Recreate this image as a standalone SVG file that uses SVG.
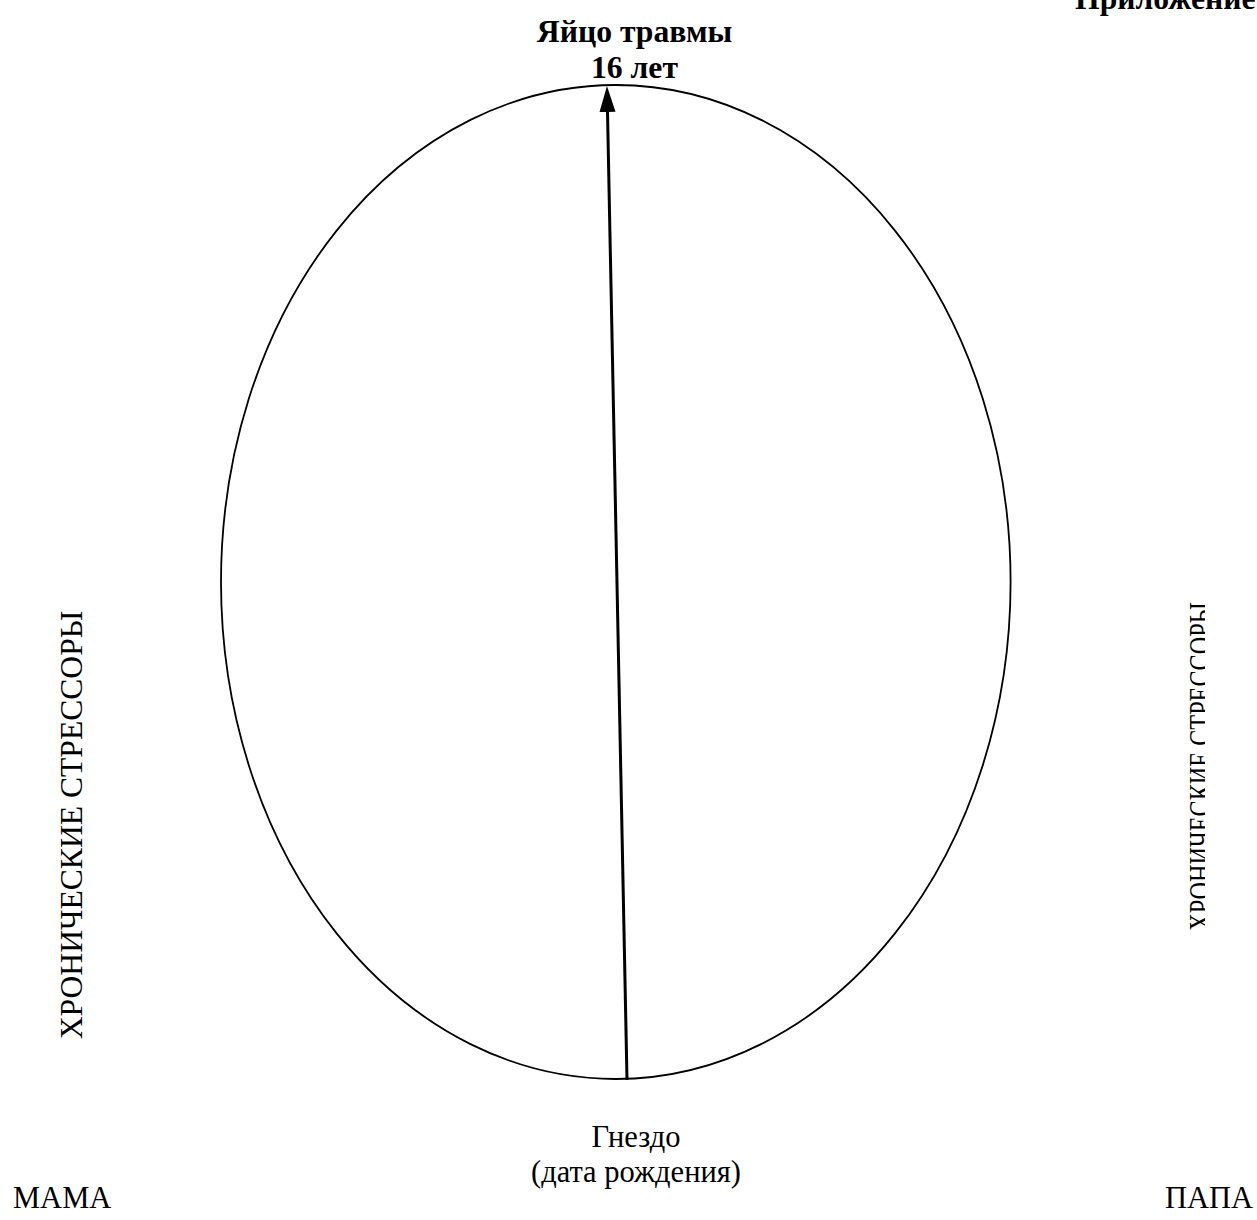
<svg xmlns="http://www.w3.org/2000/svg" width="1257" height="1220" viewBox="0 0 1257 1220">
<style>
.t{font-family:"Liberation Serif","Times New Roman",serif;font-size:30.5px;fill:#000}
.b{font-weight:bold;font-size:31.7px}
.v{font-size:31.6px}
</style>
<defs>
<marker id="ah" markerUnits="userSpaceOnUse" markerWidth="28" markerHeight="18" refX="0" refY="8" orient="auto">
<path d="M0,0 L26,8 L0,16 z" fill="#000"/>
</marker>
<clipPath id="rc"><rect x="1100" y="500" width="105" height="500"/></clipPath>
</defs>
<rect width="1257" height="1220" fill="#fff"/>
<text class="t b" x="1075" y="9">Приложение</text>
<g id="egg">
<ellipse cx="615.8" cy="582" rx="394.8" ry="497" fill="none" stroke="#000" stroke-width="1.8"/>
</g>
<g id="connectors">
<line x1="627" y1="1080" x2="607.5" y2="112" stroke="#000" stroke-width="3" marker-end="url(#ah)"/>
</g>
<g id="top-label">
<text class="t b" x="634.5" y="42" text-anchor="middle">Яйцо травмы</text>
<text class="t b" x="634.5" y="78" text-anchor="middle">16 лет</text>
</g>
<g id="nest-label">
<text class="t" x="636" y="1147" text-anchor="middle">Гнездо</text>
<text class="t" x="636" y="1182" text-anchor="middle">(дата рождения)</text>
</g>
<g id="left-stressors">
<text class="t v" transform="translate(82,825) rotate(-90)" text-anchor="middle">ХРОНИЧЕСКИЕ СТРЕССОРЫ</text>
</g>
<g id="right-stressors" clip-path="url(#rc)">
<text class="t v" transform="translate(1211,766.5) rotate(-90) scale(0.767,1)" text-anchor="middle">ХРОНИЧЕСКИЕ СТРЕССОРЫ</text>
</g>
<g id="mama"><text class="t" x="13" y="1208">МАМА</text></g>
<g id="papa"><text class="t" x="1165" y="1208">ПАПА</text></g>
</svg>
